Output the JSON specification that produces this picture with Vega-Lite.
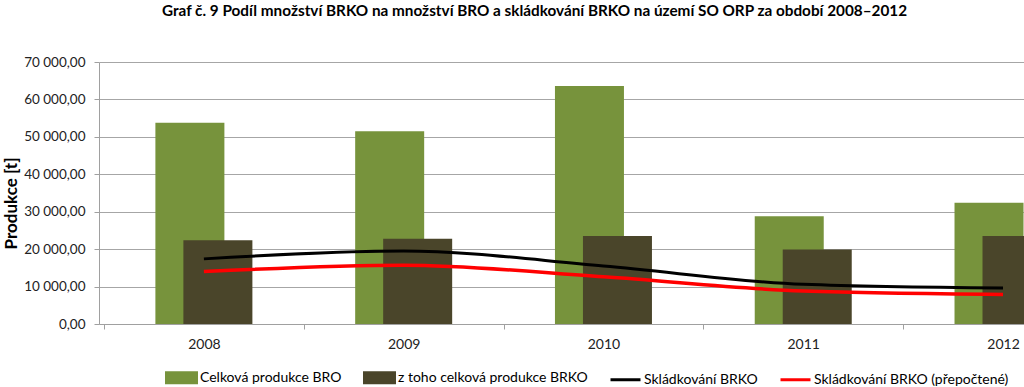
{
  "$schema": "https://vega.github.io/schema/vega-lite/v6.json",
  "width": 925,
  "height": 262,
  "autosize": "none",
  "padding": {"left": 99, "top": 62, "right": 0, "bottom": 63},
  "background": "white",
  "config": {
    "locale": {"number": {"decimal": ",", "thousands": " ", "grouping": [3], "currency": ["", " Kč"]}},
    "view": {"stroke": null},
    "font": "Lato"
  },
  "title": {
    "text": "Graf č. 9 Podíl množství BRKO na množství BRO a skládkování BRKO na území SO ORP za období 2008–2012",
    "font": "Lato", "fontSize": 15.3, "fontWeight": "bold", "color": "#000000",
    "anchor": "middle", "dx": -27, "offset": 36
  },
  "data": {
    "values": [
      {"rok": 2008, "serie": "Celková produkce BRO", "hodnota": 53800},
      {"rok": 2009, "serie": "Celková produkce BRO", "hodnota": 51500},
      {"rok": 2010, "serie": "Celková produkce BRO", "hodnota": 63600},
      {"rok": 2011, "serie": "Celková produkce BRO", "hodnota": 28800},
      {"rok": 2012, "serie": "Celková produkce BRO", "hodnota": 32400},
      {"rok": 2008, "serie": "z toho celková produkce BRKO", "hodnota": 22400},
      {"rok": 2009, "serie": "z toho celková produkce BRKO", "hodnota": 22800},
      {"rok": 2010, "serie": "z toho celková produkce BRKO", "hodnota": 23500},
      {"rok": 2011, "serie": "z toho celková produkce BRKO", "hodnota": 19900},
      {"rok": 2012, "serie": "z toho celková produkce BRKO", "hodnota": 23500},
      {"rok": 2008, "serie": "Skládkování BRKO", "hodnota": 17400},
      {"rok": 2009, "serie": "Skládkování BRKO", "hodnota": 19500},
      {"rok": 2010, "serie": "Skládkování BRKO", "hodnota": 15500},
      {"rok": 2011, "serie": "Skládkování BRKO", "hodnota": 10600},
      {"rok": 2012, "serie": "Skládkování BRKO", "hodnota": 9600},
      {"rok": 2008, "serie": "Skládkování BRKO (přepočtené)", "hodnota": 14000},
      {"rok": 2009, "serie": "Skládkování BRKO (přepočtené)", "hodnota": 15700},
      {"rok": 2010, "serie": "Skládkování BRKO (přepočtené)", "hodnota": 12600},
      {"rok": 2011, "serie": "Skládkování BRKO (přepočtené)", "hodnota": 8800},
      {"rok": 2012, "serie": "Skládkování BRKO (přepočtené)", "hodnota": 7900}
    ]
  },
  "encoding": {
    "x": {
      "field": "rok", "type": "quantitative",
      "scale": {"domain": [2007.5, 2012.08], "nice": false, "zero": false},
      "axis": {
        "title": null,
        "values": [2007.5, 2008, 2008.5, 2009, 2009.5, 2010, 2010.5, 2011, 2011.5, 2012],
        "labelExpr": "datum.value % 1 === 0 ? '' + datum.value : ''",
        "labelFont": "Lato", "labelFontSize": 14, "labelColor": "#222222",
        "labelPadding": 8,
        "domainColor": "#a0a0a0", "domainWidth": 1,
        "tickColor": {"condition": {"test": "datum.value % 1 === 0", "value": "transparent"}, "value": "#a0a0a0"},
        "tickSize": 5,
        "grid": false,
        "labelFlush": false, "labelOverlap": false
      }
    },
    "y": {
      "field": "hodnota", "type": "quantitative",
      "scale": {"domain": [0, 70000], "nice": false},
      "axis": {
        "title": "Produkce [t]",
        "titleFont": "Lato", "titleFontSize": 17, "titleFontWeight": "bold", "titleColor": "#000000",
        "titleAngle": 270, "titleAlign": "center", "titleBaseline": "middle",
        "titleX": -88, "titleY": 141,
        "values": [0, 10000, 20000, 30000, 40000, 50000, 60000, 70000],
        "format": ",.2f",
        "labelFont": "Lato", "labelFontSize": 13.5, "labelColor": "#222222",
        "labelPadding": 9,
        "domainColor": "#a0a0a0", "tickColor": "#a0a0a0", "tickSize": 5,
        "grid": true, "gridColor": "#a6a6a6", "gridWidth": 1
      }
    },
    "color": {
      "field": "serie", "type": "nominal",
      "scale": {
        "domain": ["Celková produkce BRO", "z toho celková produkce BRKO", "Skládkování BRKO", "Skládkování BRKO (přepočtené)"],
        "range": ["#77933C", "#4A452A", "#000000", "#FF0000"]
      },
      "legend": {
        "orient": "none", "legendX": 66, "legendY": 299,
        "direction": "horizontal", "title": null,
        "labelFont": "Lato", "labelFontSize": 14, "labelColor": "#000000",
        "labelLimit": 0,
        "labelOffset": 2, "columnPadding": 16,
        "symbolSize": 900,
        "encode": {
          "symbols": {
            "update": {
              "shape": {"signal": "datum.value === 'Celková produkce BRO' || datum.value === 'z toho celková produkce BRKO' ? 'M-1,-0.33H1V0.33H-1Z' : 'M-1,0H1'"},
              "fill": {"signal": "datum.value === 'Celková produkce BRO' ? '#77933C' : datum.value === 'z toho celková produkce BRKO' ? '#4A452A' : 'transparent'"},
              "stroke": {"signal": "datum.value === 'Skládkování BRKO' ? '#000000' : datum.value === 'Skládkování BRKO (přepočtené)' ? '#FF0000' : 'transparent'"},
              "strokeWidth": {"value": 3},
              "opacity": {"value": 1},
              "size": {"value": 900}
            }
          }
        }
      }
    }
  },
  "layer": [
    {
      "transform": [{"filter": "datum.serie === 'Celková produkce BRO'"}],
      "mark": {"type": "bar", "width": 69, "xOffset": -14, "clip": true}
    },
    {
      "transform": [{"filter": "datum.serie === 'z toho celková produkce BRKO'"}],
      "mark": {"type": "bar", "width": 69, "xOffset": 14, "clip": true}
    },
    {
      "transform": [{"filter": "datum.serie === 'Skládkování BRKO'"}],
      "mark": {"type": "line", "interpolate": "monotone", "strokeWidth": 3}
    },
    {
      "transform": [{"filter": "datum.serie === 'Skládkování BRKO (přepočtené)'"}],
      "mark": {"type": "line", "interpolate": "monotone", "strokeWidth": 3.5}
    }
  ]
}
